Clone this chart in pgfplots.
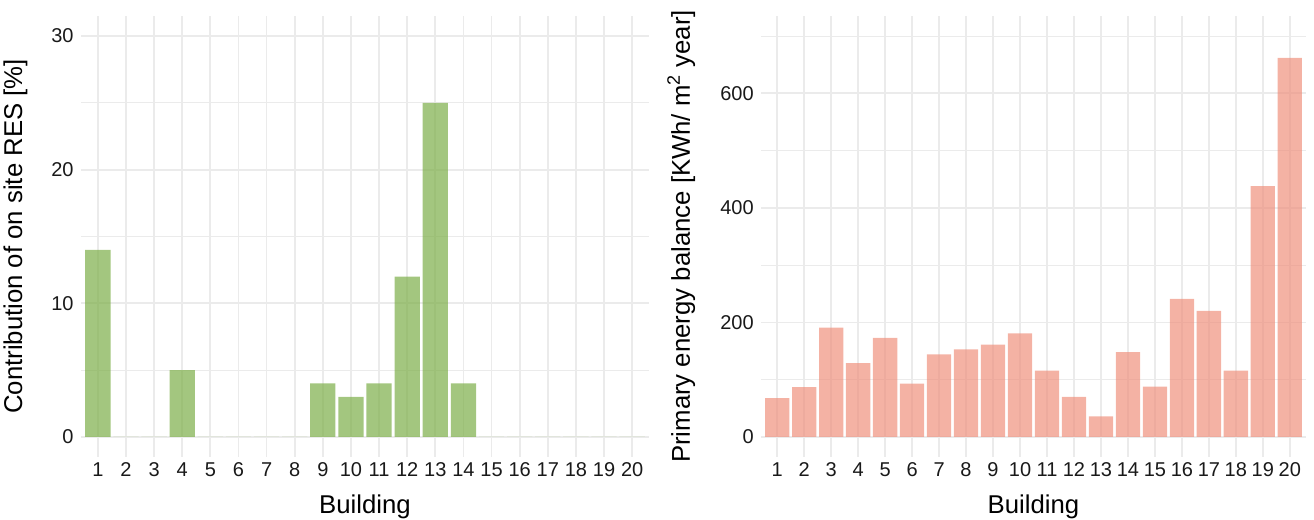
\documentclass[border=0pt]{standalone}
\usepackage{fontspec}
\setmainfont{Liberation Sans}
\usepackage{pgfplots}
\pgfplotsset{compat=1.18}
\definecolor{gridc}{HTML}{EBEBEB}
\definecolor{barg}{RGB}{124,174,72}
\definecolor{barr}{RGB}{239,145,126}
\pgfplotsset{
  panel/.style={
    scale only axis,
    height=330.75pt,
    axis line style={draw=none},
    major tick length=0pt, minor tick length=0pt,
    xmin=0.4, xmax=20.6,
    xtick={1,...,20},
    xmajorgrids, ymajorgrids, yminorgrids,
    major grid style={draw=gridc, line width=1.35pt},
    minor grid style={draw=gridc, line width=0.7pt},
    tick label style={font=\fontsize{15}{17}\selectfont, text=black!90},
    /pgf/number format/assume math mode=true,
    yticklabel style={xshift=-2pt},
    xticklabel style={yshift=-0.5pt},
    xlabel={Building},
    xlabel style={at={(axis description cs:0.5,-0.129)}, anchor=base, font=\fontsize{19.3}{21}\selectfont},
    ylabel style={anchor=south, font=\fontsize{19.3}{21}\selectfont},
  }
}
\begin{document}
\begin{tikzpicture}
\useasboundingbox (0,0) rectangle (985.5pt,390pt);
\begin{axis}[panel, at={(60.75pt,47.25pt)}, width=426pt,
  ymin=-1.5, ymax=31.5, ytick={0,10,20,30}, minor ytick={5,15,25},
  ylabel={Contribution of on site RES [\%]},
  ylabel style={at={(axis description cs:-0.086,0.5)}}]
\addplot[ybar, bar width=0.9, fill=barg, fill opacity=0.7, draw=none] coordinates {
(1,14) (2,0) (3,0) (4,5) (5,0) (6,0) (7,0) (8,0) (9,4) (10,3)
(11,4) (12,12) (13,25) (14,4) (15,0) (16,0) (17,0) (18,0) (19,0) (20,0)};
\end{axis}
\begin{axis}[panel, at={(570.75pt,47.25pt)}, width=408.75pt,
  ymin=-35, ymax=735, ytick={0,200,400,600}, minor ytick={100,300,500,700},
  ylabel={Primary energy balance [KWh/ m\textsuperscript{2} year]},
  ylabel style={at={(axis description cs:-0.112,0.5)}}]
\addplot[ybar, bar width=0.9, fill=barr, fill opacity=0.7, draw=none] coordinates {
(1,68) (2,87) (3,191) (4,129) (5,173) (6,93) (7,144) (8,153) (9,161) (10,181)
(11,116) (12,70) (13,36) (14,148) (15,88) (16,241) (17,220) (18,116) (19,438) (20,662)};
\end{axis}
\end{tikzpicture}
\end{document}
